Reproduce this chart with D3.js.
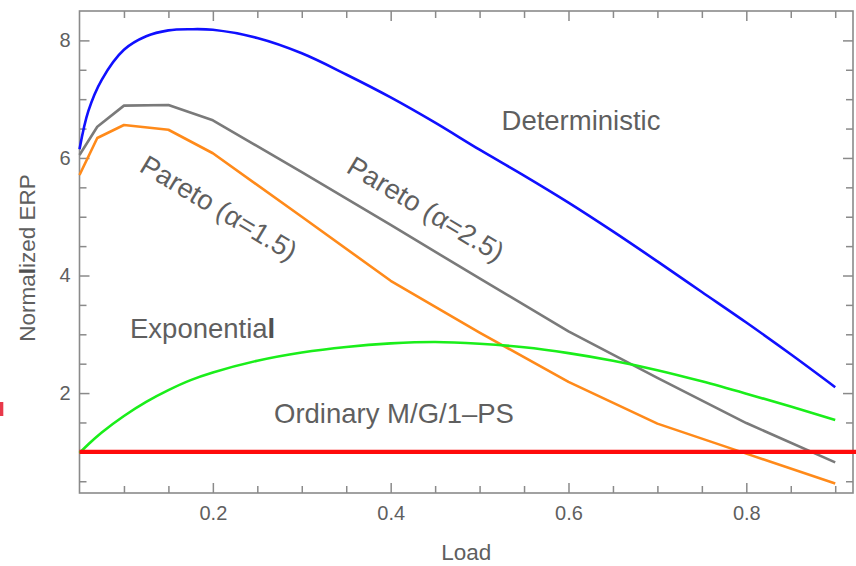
<!DOCTYPE html>
<html>
<head>
<meta charset="utf-8">
<script src="https://cdn.jsdelivr.net/npm/d3@7"></script>
<style>
  html, body { margin: 0; padding: 0; background: #fff; }
  svg { display: block; }
  text { font-family: "Liberation Sans", Arial, Helvetica, sans-serif; fill: #5f5f5f; }
</style>
</head>
<body>
<svg id="chart" width="856" height="566"></svg>
<script>
// Load grid for the smooth analytic curves
const loadFine = [0.05, 0.06, 0.075, 0.1, 0.125, 0.15, 0.175, 0.2, 0.25, 0.3, 0.35, 0.4,
                  0.45, 0.5, 0.55, 0.6, 0.65, 0.7, 0.75, 0.8, 0.85, 0.9];
const deterministic = [6.15, 6.8, 7.33, 7.84, 8.07, 8.17, 8.19, 8.18, 8.04, 7.78, 7.42, 7.03,
                       6.6, 6.14, 5.7, 5.24, 4.75, 4.24, 3.72, 3.2, 2.66, 2.1];
const exponential = [0.98, 1.13, 1.33, 1.61, 1.85, 2.05, 2.22, 2.35, 2.55, 2.69, 2.785, 2.845,
                     2.87, 2.84, 2.78, 2.68, 2.55, 2.39, 2.2, 1.99, 1.77, 1.54];

// Sampled loads for the Pareto cases (drawn as polylines)
const loadCoarse = [0.05, 0.07, 0.1, 0.15, 0.2, 0.3, 0.4, 0.5, 0.6, 0.7, 0.8, 0.9];
const pareto25 = [6.05, 6.53, 6.89, 6.9, 6.64, 5.76, 4.86, 3.95, 3.05, 2.26, 1.49, 0.82];
const pareto15 = [5.71, 6.34, 6.56, 6.48, 6.08, 5.0, 3.91, 3.03, 2.19, 1.48, 0.97, 0.46];

// Ordinary M/G/1-PS baseline
const loadOrdinary = [0.05, 0.93];
const ordinary = [1, 1];

// Axis ticks
const xMajor = [0.2, 0.4, 0.6, 0.8];
const xMinor = [0.1, 0.15, 0.25, 0.3, 0.35, 0.45, 0.5, 0.55, 0.65, 0.7, 0.75, 0.85, 0.9];
const yMajor = [2, 4, 6, 8];
const yMinor = [0.5, 1, 1.5, 2.5, 3, 3.5, 4.5, 5, 5.5, 6.5, 7, 7.5];

const svg = d3.select("#chart");
const L = 79.5, R = 853, T = 11, B = 493;

const x = d3.scaleLinear().domain([0.05, 0.92]).range([L, R]);
const y = d3.scaleLinear().domain([0.3, 8.5]).range([B, T]);

const frameColor = "#8a8a8a";

// small mark at the left edge
svg.append("rect").attr("x", 0).attr("y", 402).attr("width", 3.3).attr("height", 14)
   .attr("fill", "#e8394a");

// Frame
svg.append("rect").attr("x", L).attr("y", T).attr("width", R - L).attr("height", B - T)
   .attr("fill", "none").attr("stroke", frameColor).attr("stroke-width", 1.6);

function styleAxis(g) {
  g.select(".domain").remove();
  g.selectAll(".tick line").attr("stroke", frameColor).attr("stroke-width", 1.5);
  g.selectAll(".tick text").attr("fill", "#5f5f5f").style("font-size", "20px")
   .style("font-family", "'Liberation Sans', Arial, sans-serif");
}

// Bottom axis
svg.append("g").attr("transform", `translate(0,${B})`)
  .call(d3.axisBottom(x).tickValues(xMajor).tickSize(-10).tickPadding(13).tickFormat(d3.format(".1f")))
  .call(styleAxis);
svg.append("g").attr("transform", `translate(0,${B})`)
  .call(d3.axisBottom(x).tickValues(xMinor).tickSize(-7).tickFormat(""))
  .call(styleAxis);
// Top axis (mirrored ticks)
svg.append("g").attr("transform", `translate(0,${T})`)
  .call(d3.axisTop(x).tickValues(xMajor).tickSize(-10).tickFormat(""))
  .call(styleAxis);
svg.append("g").attr("transform", `translate(0,${T})`)
  .call(d3.axisTop(x).tickValues(xMinor).tickSize(-7).tickFormat(""))
  .call(styleAxis);
// Left axis
svg.append("g").attr("transform", `translate(${L},0)`)
  .call(d3.axisLeft(y).tickValues(yMajor).tickSize(-10).tickPadding(9).tickFormat(d3.format("d")))
  .call(styleAxis);
svg.append("g").attr("transform", `translate(${L},0)`)
  .call(d3.axisLeft(y).tickValues(yMinor).tickSize(-7).tickFormat(""))
  .call(styleAxis);
// Right axis (mirrored ticks)
svg.append("g").attr("transform", `translate(${R},0)`)
  .call(d3.axisRight(y).tickValues(yMajor).tickSize(-10).tickFormat(""))
  .call(styleAxis);
svg.append("g").attr("transform", `translate(${R},0)`)
  .call(d3.axisRight(y).tickValues(yMinor).tickSize(-7).tickFormat(""))
  .call(styleAxis);

// Curves
function series(xs, ys) { return xs.map((v, i) => [v, ys[i]]); }
const smooth = d3.line().x(d => x(d[0])).y(d => y(d[1])).curve(d3.curveCatmullRom.alpha(0.5));
const poly = d3.line().x(d => x(d[0])).y(d => y(d[1]));

const curves = [
  { data: series(loadFine, deterministic), gen: smooth, color: "#1010ff", w: 2.6 },
  { data: series(loadCoarse, pareto25), gen: poly, color: "#7a7a7a", w: 2.6 },
  { data: series(loadCoarse, pareto15), gen: poly, color: "#ff8a1a", w: 2.6 },
  { data: series(loadFine, exponential), gen: smooth, color: "#1aee1a", w: 2.6 },
  { data: series(loadOrdinary, ordinary), gen: poly, color: "#ff0a0a", w: 4.4 }
];
curves.forEach(c => {
  svg.append("path").attr("d", c.gen(c.data)).attr("fill", "none")
     .attr("stroke", c.color).attr("stroke-width", c.w)
     .attr("stroke-linejoin", "round").attr("stroke-linecap", "butt");
});

// Curve labels
const labelFont = "27.5px";
svg.append("text").attr("x", 581).attr("y", 130).attr("text-anchor", "middle")
   .style("font-size", labelFont).text("Deterministic");
const expo = svg.append("text").attr("x", 130).attr("y", 338).style("font-size", labelFont);
expo.append("tspan").text("Exponentia");
expo.append("tspan").style("font-weight", "900").attr("fill", "#505050").text("l");
svg.append("text").attr("x", 394).attr("y", 423).attr("text-anchor", "middle")
   .style("font-size", labelFont).text("Ordinary M/G/1\u2013PS");
svg.append("text").attr("text-anchor", "middle").style("font-size", labelFont)
   .attr("transform", "translate(214,216) rotate(31)").text("Pareto (\u03b1=1.5)");
svg.append("text").attr("text-anchor", "middle").style("font-size", labelFont)
   .attr("transform", "translate(421,217) rotate(31)").text("Pareto (\u03b1=2.5)");

// Axis titles
svg.append("text").attr("x", (L + R) / 2).attr("y", 560).attr("text-anchor", "middle")
   .style("font-size", "22.5px").text("Load");
const yt = svg.append("text").attr("text-anchor", "middle").style("font-size", "22.5px")
   .attr("transform", "translate(35,258) rotate(-90)");
yt.append("tspan").text("Norma");
yt.append("tspan").style("font-weight", "900").attr("fill", "#505050").text("l");
yt.append("tspan").text("ized ERP");
</script>
</body>
</html>
